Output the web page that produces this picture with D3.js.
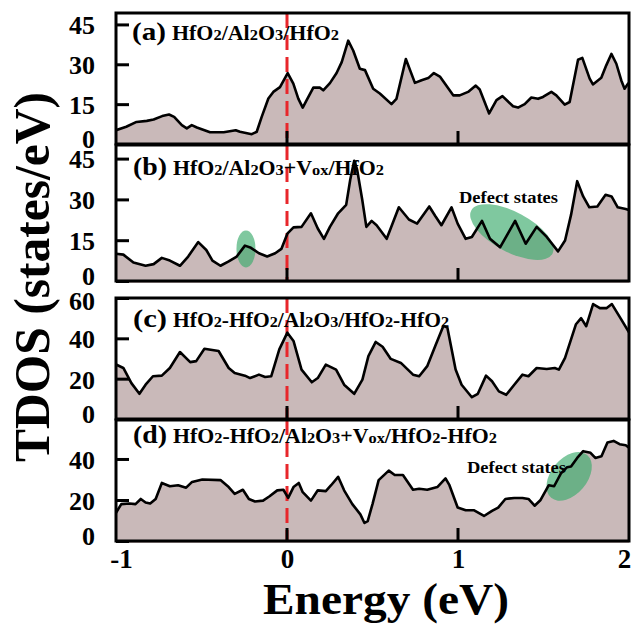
<!DOCTYPE html>
<html><head><meta charset="utf-8">
<script src="https://cdn.jsdelivr.net/npm/d3@7"></script>
<style>html,body{margin:0;padding:0;background:#fff;}svg{display:block;}</style>
</head><body>
<svg id="chart" width="633" height="633"></svg>
<script>
// ---------------- data ----------------
const xTicks = [-1, 0, 1, 2];
const yTicksA = [0, 15, 30, 45];
const yTicksB = [0, 15, 30, 45];
const yTicksC = [0, 20, 40, 60];
const yTicksD = [0, 20, 40];

const energyA = [-1.0,-0.94,-0.88,-0.82,-0.78,-0.73,-0.69,-0.66,-0.615,-0.586,-0.557,-0.527,-0.45,-0.37,-0.30,-0.275,-0.206,-0.177,-0.148,-0.109,-0.08,-0.041,0.004,0.037,0.066,0.092,0.115,0.154,0.193,0.212,0.251,0.29,0.32,0.358,0.387,0.426,0.456,0.504,0.543,0.611,0.64,0.695,0.748,0.787,0.826,0.859,0.894,0.972,1.01,1.059,1.104,1.127,1.182,1.225,1.26,1.322,1.351,1.39,1.429,1.468,1.497,1.546,1.575,1.624,1.653,1.702,1.727,1.77,1.789,1.838,1.867,1.897,1.926,1.955,1.974,1.994,2.0];
const tdosA = [5.2,6.5,8.3,8.7,9.2,10.5,11.1,10.2,7.1,5.9,7.1,6.2,4.4,4.4,5.2,4.6,3.7,4.6,10.2,17.1,19.6,21.4,26.7,22.7,17.1,13.7,16.5,21.2,21.2,20.2,22.9,26.7,30.8,38.9,35.2,28.3,27.8,20.8,19,15,17,32,23,24,24.8,26.7,25.4,18.3,18.3,19.6,22,20.5,11.5,16.5,18,14.2,13.7,15,17.5,17,17.7,19.6,18.3,14.8,15.8,31.7,32.4,24.6,22.4,24.9,29.6,33.9,30.2,23.9,20.8,22.7,23];

const energyB = [-1.0,-0.957,-0.898,-0.827,-0.78,-0.732,-0.685,-0.626,-0.578,-0.519,-0.472,-0.436,-0.389,-0.341,-0.294,-0.246,-0.211,-0.164,-0.116,-0.069,-0.033,0.002,0.038,0.085,0.14,0.18,0.216,0.251,0.299,0.346,0.37,0.393,0.41,0.44,0.464,0.495,0.524,0.583,0.654,0.713,0.761,0.832,0.867,0.903,0.962,0.998,1.045,1.081,1.14,1.187,1.246,1.334,1.396,1.46,1.519,1.585,1.626,1.661,1.697,1.732,1.768,1.815,1.863,1.898,1.934,1.981,2.0];
const tdosB = [10,9.7,6.8,5.6,6.2,8.5,7.5,5.6,9,14.3,11.4,7.5,5.6,7.2,9,13,12.2,10.2,9,10.2,11.8,17.4,19.7,19.9,24.9,19.3,15.5,19.9,24.9,28,37.3,44.2,41,29.9,19.9,22.1,20.5,15.5,27.1,22.6,21.1,27.4,23.9,20.5,27.1,21.1,15.5,16.2,22.1,15.5,12.4,22.1,13.7,19.9,16.2,10.9,14.9,24.3,36.7,31.1,27.1,27.4,31.7,31.1,27.1,26.5,26.1];

const energyC = [-1.0,-0.957,-0.91,-0.863,-0.827,-0.784,-0.732,-0.685,-0.626,-0.566,-0.531,-0.483,-0.4,-0.341,-0.306,-0.246,-0.216,-0.164,-0.128,-0.092,-0.045,0.002,0.038,0.085,0.145,0.18,0.227,0.287,0.334,0.393,0.441,0.476,0.519,0.559,0.607,0.666,0.737,0.773,0.82,0.867,0.915,0.938,0.986,1.021,1.081,1.116,1.164,1.199,1.239,1.282,1.329,1.377,1.412,1.46,1.519,1.566,1.59,1.626,1.69,1.72,1.75,1.79,1.83,1.87,1.9,1.95,2.0];
const tdosC = [27,25.3,17.8,12.5,17,21.2,21.5,25.3,33.2,28.2,28.7,34.8,33.7,25.3,22.8,21.5,20.3,22,20.8,21.2,34.5,42.8,38.7,24.5,18.2,20.3,27,24.5,17,12.5,19.5,31.2,38.2,35.8,29.8,27.8,22,21.2,26.2,36.2,46.2,45.3,24.5,17,10.8,12.5,21.5,18.7,13.7,12,17,22,21.2,25.3,24.8,25.3,24.5,30.3,47,50,46,57,55,55,57,50,43];

const energyD = [-1.0,-0.969,-0.922,-0.886,-0.855,-0.827,-0.8,-0.768,-0.732,-0.685,-0.637,-0.59,-0.555,-0.495,-0.389,-0.341,-0.306,-0.258,-0.223,-0.187,-0.14,-0.104,-0.057,-0.021,0.007,0.038,0.069,0.092,0.14,0.18,0.227,0.258,0.299,0.334,0.382,0.429,0.453,0.472,0.5,0.536,0.595,0.63,0.678,0.737,0.773,0.82,0.879,0.927,0.95,0.998,1.045,1.092,1.152,1.199,1.235,1.277,1.329,1.377,1.412,1.448,1.483,1.531,1.562,1.602,1.638,1.661,1.697,1.732,1.775,1.803,1.839,1.874,1.91,1.945,1.981,2.0];
const tdosD = [13.8,18,18.3,18,20.5,18.8,18.3,20.5,28.3,26.7,27.2,26,28.8,30,29.7,26.3,23,25,20.5,19.3,19.7,21.7,24.7,25,21,26.3,28.3,23.8,19.7,24.7,24.3,27.2,31.3,24.7,18,13,8.8,9.7,18,29.7,34.3,32.2,32.2,25,25.5,25,26.3,30.5,27.2,16.3,15,15,12.2,14.7,16.3,20.5,21,21,20.5,17.2,20,27.2,26.7,33,36,36.3,40.5,43.8,43,40.5,41.3,48,48.8,47.2,46.7,45.5];

const labelPrefixes = ["(a)", "(b)", "(c)", "(d)"];
const labelFormulas = [
  [["HfO","n"],["2","s"],["/Al","n"],["2","s"],["O","n"],["3","s"],["/HfO","n"],["2","s"]],
  [["HfO","n"],["2","s"],["/Al","n"],["2","s"],["O","n"],["3","s"],["+V","n"],["ox","s"],["/HfO","n"],["2","s"]],
  [["HfO","n"],["2","s"],["-HfO","n"],["2","s"],["/Al","n"],["2","s"],["O","n"],["3","s"],["/HfO","n"],["2","s"],["-HfO","n"],["2","s"]],
  [["HfO","n"],["2","s"],["-HfO","n"],["2","s"],["/Al","n"],["2","s"],["O","n"],["3","s"],["+V","n"],["ox","s"],["/HfO","n"],["2","s"],["-HfO","n"],["2","s"]]
];
const defectText = "Defect states";

// ---------------- layout ----------------
const W = 633, H = 633;
const left = 116, right = 629;
const panels = [
  {top:13,  bottom:144, ymax:49.3, e:energyA, v:tdosA, ticks:yTicksA, lx0:132, lx1:339, ly:40},
  {top:145, bottom:281, ymax:50,   e:energyB, v:tdosB, ticks:yTicksB, lx0:133, lx1:384, ly:175},
  {top:298, bottom:419, ymax:60,   e:energyC, v:tdosC, ticks:yTicksC, lx0:133, lx1:449, ly:327},
  {top:420, bottom:541, ymax:59,   e:energyD, v:tdosD, ticks:yTicksD, lx0:133, lx1:497, ly:443}
];
const serif = "'Liberation Serif','Times New Roman',serif";
const fillCol = "#c9b9b9";
const greenCol = "rgb(58,170,108)";

const svg = d3.select("#chart");
const x = d3.scaleLinear().domain([-1, 2]).range([left, right]);

panels.forEach((p, i) => {
  const y = d3.scaleLinear().domain([0, p.ymax]).range([p.bottom, p.top]);
  const g = svg.append("g");
  const clipId = "clip" + i;
  svg.append("clipPath").attr("id", clipId).append("rect")
    .attr("x", left).attr("y", p.top).attr("width", right - left).attr("height", p.bottom - p.top + 2);
  const data = p.e.map((e, k) => [e, p.v[k]]);
  const area = d3.area().x(d => x(d[0])).y0(p.bottom + 2).y1(d => y(d[1]));
  const line = d3.line().x(d => x(d[0])).y(d => y(d[1]));
  const pg = g.append("g").attr("clip-path", `url(#${clipId})`);
  pg.append("path").datum(data).attr("d", area).attr("fill", fillCol);

  // red dashed Fermi line
  pg.append("line").attr("x1", x(0)).attr("x2", x(0)).attr("y1", p.top).attr("y2", p.bottom)
    .attr("stroke", "#e8262b").attr("stroke-width", 3).attr("stroke-dasharray", "15,7");

  // ellipses (drawn under the line)
  if (i === 1) {
    pg.append("ellipse").attr("cx", x(-0.24)).attr("cy", y(11.8)).attr("rx", 9.5).attr("ry", 18.5)
      .attr("fill", greenCol).attr("opacity", 0.65);
    pg.append("ellipse").attr("transform", `translate(${x(1.315)},${y(18)}) rotate(28)`)
      .attr("rx", 46).attr("ry", 20).attr("fill", greenCol).attr("opacity", 0.65);
  }
  if (i === 3) {
    pg.append("ellipse").attr("transform", `translate(${x(1.65)},${y(31.5)}) rotate(-50)`)
      .attr("rx", 28).attr("ry", 18).attr("fill", greenCol).attr("opacity", 0.65);
  }

  pg.append("path").datum(data).attr("d", line).attr("fill", "none")
    .attr("stroke", "#000").attr("stroke-width", 2.6).attr("stroke-linejoin", "round");

  // x inner ticks
  [0, 1].forEach(t => {
    g.append("line").attr("x1", x(t)).attr("x2", x(t)).attr("y1", p.bottom).attr("y2", p.bottom - 13)
      .attr("stroke", "#000").attr("stroke-width", 3);
  });

  // y axis with inner ticks
  const yAxis = d3.axisLeft(y).tickValues(p.ticks).tickSize(-13).tickPadding(21).tickFormat(d3.format("d"));
  const ag = g.append("g").attr("transform", `translate(${left},0)`).call(yAxis);
  ag.select(".domain").remove();
  ag.selectAll(".tick line").attr("stroke", "#000").attr("stroke-width", 3);
  ag.selectAll(".tick text").attr("font-family", serif).attr("font-weight", "bold")
    .attr("font-size", 26).attr("fill", "#000")
    .attr("dy", d => d === 0 ? "0.12em" : (d === 60 ? "0.46em" : "0.36em"));

  // frame
  g.append("rect").attr("x", left).attr("y", p.top).attr("width", right - left).attr("height", p.bottom - p.top)
    .attr("fill", "none").attr("stroke", "#000").attr("stroke-width", 3);

  // panel label
  g.append("text").attr("x", p.lx0).attr("y", p.ly).attr("font-family", serif).attr("font-weight", "bold")
    .attr("font-size", 25).attr("textLength", 34).attr("lengthAdjust", "spacingAndGlyphs")
    .text(labelPrefixes[i]);
  const ft = g.append("text").attr("x", p.lx0 + 40).attr("y", p.ly).attr("font-family", serif)
    .attr("font-weight", "bold").attr("font-size", 20)
    .attr("textLength", p.lx1 - p.lx0 - 40).attr("lengthAdjust", "spacingAndGlyphs");
  labelFormulas[i].forEach(([s, k]) => {
    ft.append("tspan").attr("font-size", k === "s" ? 15 : 20).text(s);
  });
});

// Defect states labels
svg.append("text").attr("x", 459).attr("y", 203).attr("font-family", serif).attr("font-weight", "bold")
  .attr("font-size", 17).attr("textLength", 99).attr("lengthAdjust", "spacingAndGlyphs").text(defectText);
svg.append("text").attr("x", 467).attr("y", 473).attr("font-family", serif).attr("font-weight", "bold")
  .attr("font-size", 17).attr("textLength", 99).attr("lengthAdjust", "spacingAndGlyphs").text(defectText);

// x tick labels
const xAxis = d3.axisBottom(x).tickValues(xTicks).tickSize(0).tickPadding(8).tickFormat(d3.format("d"));
const xg = svg.append("g").attr("transform", `translate(0,541)`).call(xAxis);
xg.select(".domain").remove();
xg.selectAll(".tick text").attr("font-family", serif).attr("font-weight", "bold")
  .attr("font-size", 27).attr("fill", "#000").attr("dy", "0.72em")
  .attr("dx", d => d === -1 ? 5 : (d === 2 ? -5 : 0))
  .text(d => d < 0 ? "-" + Math.abs(d) : d);

// axis titles
svg.append("text").attr("x", 386).attr("y", 614).attr("text-anchor", "middle")
  .attr("font-family", serif).attr("font-weight", "bold").attr("font-size", 45)
  .attr("textLength", 246).attr("lengthAdjust", "spacingAndGlyphs").text("Energy (eV)");
svg.append("text").attr("transform", "translate(49,277) rotate(-90)").attr("text-anchor", "middle")
  .attr("font-family", serif).attr("font-weight", "bold").attr("font-size", 50)
  .attr("textLength", 370).attr("lengthAdjust", "spacingAndGlyphs").text("TDOS (states/eV)");
</script>
</body></html>
